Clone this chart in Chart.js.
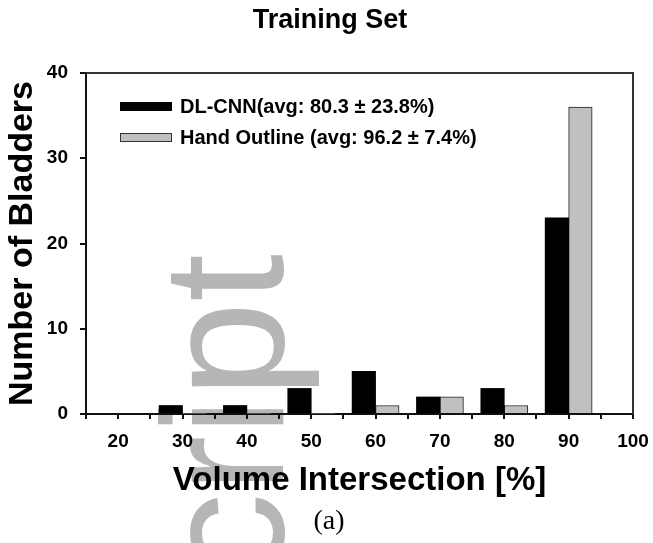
<!DOCTYPE html>
<html>
<head>
<meta charset="utf-8">
<script src="https://cdn.jsdelivr.net/npm/chart.js@4.4.0/dist/chart.umd.min.js"></script>
<style>
  body { margin: 0; background: #fff; }
  canvas { display: block; }
</style>
</head>
<body>
<canvas id="chart" width="653" height="543"></canvas>
<script>
// histogram bins (volume intersection, %) and counts
var bins = [30, 40, 50, 60, 70, 80, 90];
var dlCnnCounts = [1, 1, 3, 5, 2, 3, 23];
var handOutlineCounts = [0, 0, 0, 1, 2, 1, 36];
var seriesNames = ['DL-CNN(avg: 80.3 \u00b1 23.8%)', 'Hand Outline (avg: 96.2 \u00b1 7.4%)'];
var xTickLabels = [20, 30, 40, 50, 60, 70, 80, 90, 100];
var yTickLabels = [0, 10, 20, 30, 40];

var FONT = '"Liberation Sans", Arial, sans-serif';

// title, caption, watermark, frame and in-plot legend
var decorations = {
    id: 'decorations',
    beforeDraw: function (chart) {
        var ctx = chart.ctx;
        ctx.save();
        ctx.fillStyle = 'rgb(182,182,182)';
        ctx.font = '172px ' + FONT;
        ctx.translate(283, 254);
        ctx.rotate(-Math.PI / 2);
        ctx.textAlign = 'right';
        ctx.textBaseline = 'alphabetic';
        ctx.fillText('Manuscript', 0, 0);
        ctx.restore();
    },
    afterDraw: function (chart) {
        var ctx = chart.ctx;
        var area = chart.chartArea;
        ctx.save();
        ctx.strokeStyle = '#333';
        ctx.lineWidth = 2;
        ctx.beginPath();
        ctx.moveTo(area.left, area.top);
        ctx.lineTo(area.right, area.top);
        ctx.lineTo(area.right, area.bottom);
        ctx.stroke();

        ctx.fillStyle = '#000';
        ctx.textAlign = 'center';
        ctx.textBaseline = 'middle';
        ctx.font = 'bold 27px ' + FONT;
        ctx.fillText('Training Set', 330, 21);
        ctx.font = '28px "Liberation Serif", "Times New Roman", serif';
        ctx.fillText('(a)', 329, 522);

        // legend
        ctx.textAlign = 'left';
        ctx.font = 'bold 20px ' + FONT;
        chart.data.datasets.forEach(function (ds, i) {
            var y = 107 + i * 31;
            ctx.fillStyle = ds.backgroundColor;
            ctx.fillRect(120, y - 5, 52, 9);
            if (i === 1) {
                ctx.strokeStyle = '#333';
                ctx.lineWidth = 1;
                ctx.strokeRect(120.5, y - 4.5, 51, 8);
            }
            ctx.fillStyle = '#000';
            ctx.fillText(ds.label, 180, y);
        });
        ctx.restore();
    }
};

var ctx = document.getElementById('chart').getContext('2d');
window.myChart = new Chart(ctx, {
    type: 'bar',
    data: {
        labels: bins,
        datasets: [{
            label: seriesNames[0],
            data: dlCnnCounts,
            backgroundColor: '#000000',
            borderColor: '#000000',
            borderWidth: 0
        }, {
            label: seriesNames[1],
            data: handOutlineCounts,
            backgroundColor: '#c0c0c0',
            borderColor: '#222222',
            borderWidth: function (c) { return c.raw ? 1 : 0; }
        }]
    },
    options: {
        responsive: false,
        animation: false,
        barThickness: 23.5,
        layout: { padding: { left: 0, right: 20, top: 73, bottom: 0 } },
        plugins: {
            legend: { display: false },
            tooltip: { enabled: false }
        },
        scales: {
            x: {
                type: 'linear',
                min: 15,
                max: 100,
                offset: false,
                grid: { offset: false, drawOnChartArea: false, drawTicks: true, tickLength: 5, color: '#111', lineWidth: 2 },
                border: { display: true, color: '#111', width: 2 },
                ticks: {
                    stepSize: 5,
                    autoSkip: false,
                    maxRotation: 0,
                    padding: 11,
                    color: '#000',
                    font: { family: FONT, size: 19, weight: 'bold' },
                    callback: function (v) { return xTickLabels.indexOf(v) >= 0 ? String(v) : ''; }
                },
                title: {
                    display: true,
                    text: 'Volume Intersection [%]',
                    color: '#000',
                    font: { family: FONT, size: 33, weight: 'bold' },
                    padding: { top: 0, bottom: 42 }
                },
                afterFit: function (scale) {
                    scale.height = 129;
                    scale.paddingLeft = 0;
                    scale.paddingRight = 0;
                }
            },
            y: {
                min: 0,
                max: 40,
                grid: { drawOnChartArea: false, drawTicks: true, tickLength: 6, color: '#111', lineWidth: 2 },
                border: { display: true, color: '#111', width: 2 },
                ticks: {
                    stepSize: 10,
                    padding: 12,
                    color: '#000',
                    font: { family: FONT, size: 19, weight: 'bold' },
                    callback: function (v) { return yTickLabels.indexOf(v) >= 0 ? String(v) : ''; }
                },
                title: {
                    display: true,
                    text: 'Number of Bladders',
                    color: '#000',
                    font: { family: FONT, size: 34, weight: 'bold' },
                    padding: { top: 2, bottom: 0 }
                },
                afterFit: function (scale) { scale.width = 86; }
            }
        }
    },
    plugins: [decorations]
});
</script>
</body>
</html>
